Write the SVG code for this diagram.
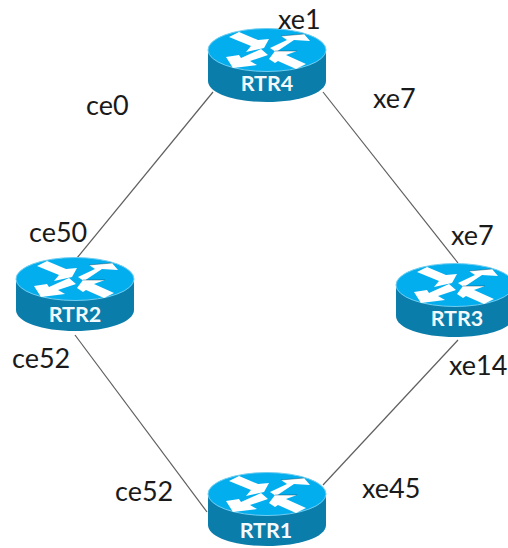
<svg xmlns="http://www.w3.org/2000/svg" width="508" height="548" viewBox="0 0 508 548">
<style>
.l{font-family:"Lato","Liberation Sans",sans-serif;font-size:27px;fill:#1a1a1a}
.n{font-family:"Lato","Liberation Sans",sans-serif;font-size:21.5px;font-weight:700;fill:#f2fafd;text-anchor:middle}
.c{stroke:#5f5f5f;stroke-width:1.2;fill:none}
.e{stroke:#0d3b4f;stroke-width:.7;stroke-opacity:.6;fill:none}
</style>
<defs>
<g id="router">
<path d="M-59 0V31C-59 43-33 52 0 52S59 43 59 31V0Z" fill="#0b7dab"/>
<ellipse cx="0" cy="0" rx="59" ry="21.5" fill="#03aeef" stroke="#6fcdf0" stroke-width="1"/>
<path fill="#fff" d="M-38 -13L-28 -18L-9 -10L2 -11L-3 -2L-21 2L-16 -4Z"/>
<path fill="#fff" d="M3 -2L20 -10L14 -14L37 -16L43 -9L27 -10L9 2Z"/>
<path fill="#fff" d="M-41 7L-34 18L-10 15L-17 11L1 5L-6 -1L-26 8L-28 5Z"/>
<path fill="#fff" d="M2 9L8 1L30 1L19 5L39 14L29 19L11 11L8 13Z"/>
<path class="e" d="M8 1L30 1M14 -14L37 -16"/>
</g>
</defs>
<g id="connectors" class="c">
<line x1="213" y1="92" x2="77" y2="258"/>
<line x1="323" y1="92" x2="458" y2="263"/>
<line x1="75" y1="335" x2="207" y2="512"/>
<line x1="458" y1="340" x2="323" y2="485"/>
</g>
<g id="rtr4"><use href="#router" x="267" y="50"/><text class="n" x="267" y="91">RTR4</text></g>
<g id="rtr2"><use href="#router" x="75" y="279"/><text class="n" x="75" y="322">RTR2</text></g>
<g id="rtr3"><use href="#router" x="455" y="285"/><text class="n" x="457" y="326">RTR3</text></g>
<g id="rtr1"><use href="#router" x="267" y="494"/><text class="n" x="266" y="538">RTR1</text></g>
<g id="labels">
<text class="l" x="278" y="29">xe1</text>
<text class="l" x="86" y="115">ce0</text>
<text class="l" x="373" y="108">xe7</text>
<text class="l" x="29" y="242">ce50</text>
<text class="l" x="451" y="245">xe7</text>
<text class="l" x="12" y="368">ce52</text>
<text class="l" x="449" y="375">xe14</text>
<text class="l" x="115" y="501">ce52</text>
<text class="l" x="362" y="498">xe45</text>
</g>
</svg>
